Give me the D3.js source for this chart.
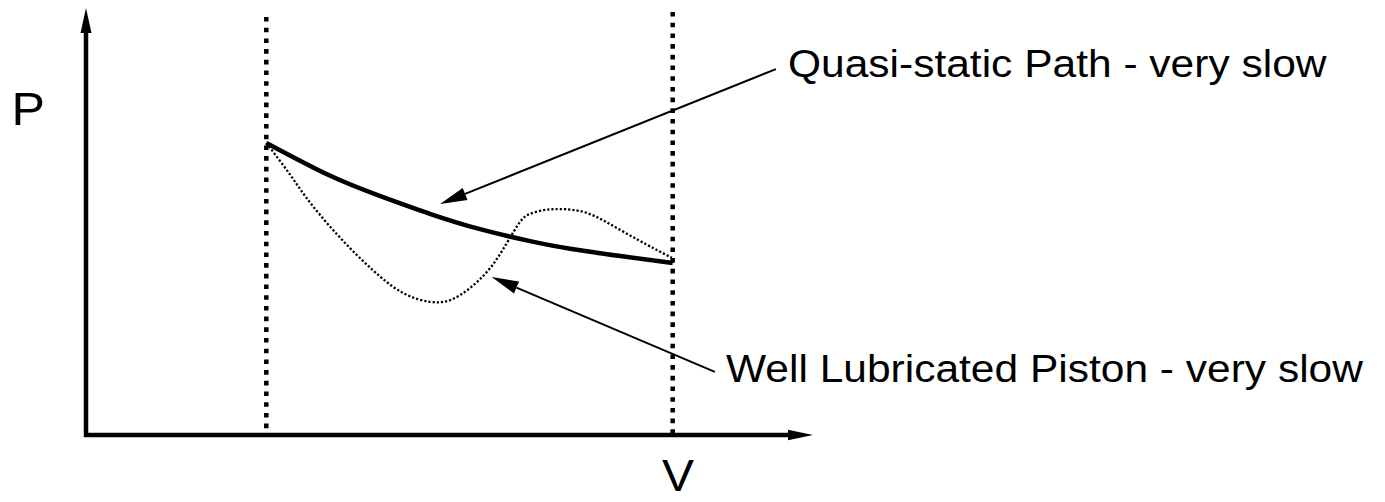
<!DOCTYPE html>
<html><head><meta charset="utf-8">
<script src="https://cdn.jsdelivr.net/npm/d3@7"></script>
<style>html,body{margin:0;padding:0;background:#fff;}svg{display:block;}</style>
</head><body>
<svg id="chart" width="1385" height="502"></svg>
<script>
// ---- data (arbitrary V, P units) ----
const quasiV = [2.48, 3.36, 4.04, 4.73, 5.42, 6.11, 6.66, 7.35, 8.07];
const quasiP = [6.84, 6.07, 5.60, 5.18, 4.82, 4.54, 4.36, 4.19, 4.03];
const pistonV = [2.48, 2.81, 3.12, 3.59, 4.04, 4.39, 4.73, 5.01, 5.28, 5.56, 5.79, 5.97, 6.11, 6.31, 6.52, 6.89, 7.35, 7.80, 8.06];
const pistonP = [6.84, 6.09, 5.36, 4.45, 3.72, 3.30, 3.12, 3.16, 3.44, 3.91, 4.50, 4.99, 5.18, 5.27, 5.29, 5.20, 4.80, 4.38, 4.15];
const boundV = [2.48, 8.07];
const labels = ["Quasi-static Path - very slow", "Well Lubricated Piston - very slow"];
const axisLabels = ["P", "V"];
// annotation arrows: from (V, P) to tip (V, P)
const arrowFromV = [9.49, 8.65];
const arrowFromP = [8.57, 1.48];
const arrowTipV = [4.87, 5.58];
const arrowTipP = [5.41, 3.70];

// ---- layout ----
const svg = d3.select("#chart");
const x = d3.scaleLinear().domain([0, 10]).range([86, 813]);
const y = d3.scaleLinear().domain([0, 10]).range([435, 8]);
const sx = 1.09;

function head(tip, from, L, W) {
  const dx = tip[0] - from[0], dy = tip[1] - from[1];
  const d = Math.hypot(dx, dy), ux = dx / d, uy = dy / d;
  const bx = tip[0] - ux * L, by = tip[1] - uy * L;
  return [[tip[0], tip[1]], [bx - uy * W, by + ux * W], [bx + uy * W, by - ux * W]];
}

// axes
svg.append("line").attr("x1", x(0)).attr("y1", y(0) + 2).attr("x2", x(0)).attr("y2", y(10) + 20)
  .attr("stroke", "#000").attr("stroke-width", 4.5);
svg.append("polygon").attr("points", head([x(0), y(10)], [x(0), y(0)], 25, 5.5).join(" ")).attr("fill", "#000");
svg.append("line").attr("x1", x(0) - 2).attr("y1", y(0)).attr("x2", x(10) - 20).attr("y2", y(0))
  .attr("stroke", "#000").attr("stroke-width", 4.5);
svg.append("polygon").attr("points", head([x(10), y(0)], [x(0), y(0)], 25, 5.2).join(" ")).attr("fill", "#000");

// dotted bounds
svg.selectAll("line.bound").data(boundV).join("line").attr("class", "bound")
  .attr("x1", d => x(d)).attr("x2", d => x(d))
  .attr("y1", (d, i) => i === 0 ? 17 : 12).attr("y2", y(0))
  .attr("stroke", "#000").attr("stroke-width", 4.5).attr("stroke-dasharray", "4.6,6.1");

// curves
const line = d3.line().x(d => x(d[0])).y(d => y(d[1])).curve(d3.curveNatural);
svg.append("path").datum(pistonV.map((v, i) => [v, pistonP[i]])).attr("d", line)
  .attr("fill", "none").attr("stroke", "#000").attr("stroke-width", 2.3).attr("stroke-dasharray", "2.2,2");
svg.append("path").datum(quasiV.map((v, i) => [v, quasiP[i]])).attr("d", line)
  .attr("fill", "none").attr("stroke", "#000").attr("stroke-width", 4.5).attr("stroke-linecap", "butt");

// annotation arrows
arrowFromV.forEach((fv, i) => {
  const from = [x(fv), y(arrowFromP[i])], tip = [x(arrowTipV[i]), y(arrowTipP[i])];
  const h = head(tip, from, 27, 6.5);
  const base = [(h[1][0] + h[2][0]) / 2, (h[1][1] + h[2][1]) / 2];
  svg.append("line").attr("x1", from[0]).attr("y1", from[1]).attr("x2", base[0]).attr("y2", base[1])
    .attr("stroke", "#000").attr("stroke-width", 2);
  svg.append("polygon").attr("points", h.join(" ")).attr("fill", "#000");
});

// texts
const font = "'Liberation Sans', Arial, Helvetica, sans-serif";
const textPos = [[788, 77, 39], [726, 382, 39]];
labels.forEach((t, i) => {
  svg.append("text").attr("transform", `translate(${textPos[i][0]},${textPos[i][1]}) scale(${sx},1)`)
    .attr("font-family", font).attr("font-size", textPos[i][2]).attr("fill", "#000").text(t);
});
const axPos = [[11.5, 125, 46], [662, 491, 44]];
axisLabels.forEach((t, i) => {
  svg.append("text").attr("transform", `translate(${axPos[i][0]},${axPos[i][1]}) scale(${sx},1)`)
    .attr("font-family", font).attr("font-size", axPos[i][2]).attr("fill", "#000").text(t);
});
</script>
</body></html>
